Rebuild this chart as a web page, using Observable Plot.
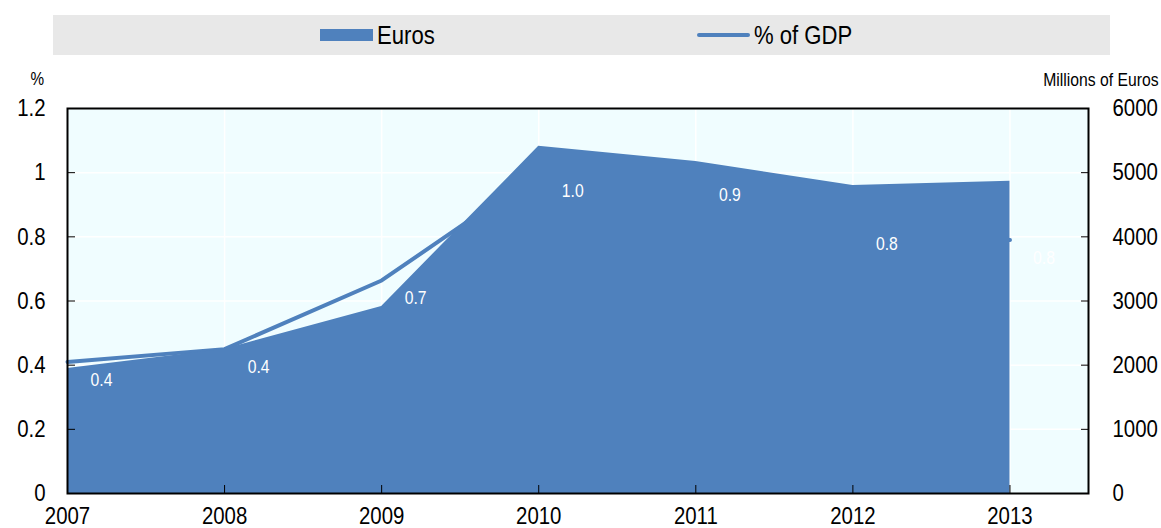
<!DOCTYPE html>
<html><head><meta charset="utf-8">
<script src="https://cdn.jsdelivr.net/npm/d3@7"></script>
<script src="https://cdn.jsdelivr.net/npm/@observablehq/plot@0.6"></script>
<style>
body{margin:0;background:#fff;font-family:"Liberation Sans",Arial,sans-serif;}
#legend{position:relative;margin:15px 0 0 53px;width:1057px;height:40px;background:#e8e8e8;font-size:26px;color:#000;}
.item{position:absolute;top:0;height:40px;display:flex;align-items:center;}
.sw-rect{width:53px;height:12px;background:#4f81bd;margin-right:4px;flex:none;}
.sw-line{width:53px;height:4px;background:#4f81bd;margin-right:4px;flex:none;border-radius:2px;}
.txt{display:inline-block;transform:scaleX(0.85);transform-origin:left center;white-space:nowrap;}
#chart{margin-top:5px;}
</style></head>
<body>
<div id="legend">
  <div class="item" style="left:267px"><span class="sw-rect"></span><span class="txt">Euros</span></div>
  <div class="item" style="left:644px"><span class="sw-line"></span><span class="txt">% of GDP</span></div>
</div>
<div id="chart"></div>
<script>
const years = [2007, 2008, 2009, 2010, 2011, 2012, 2013];
const euros = [1950, 2250, 2915, 5410, 5175, 4800, 4865];
const gdpPct = [0.41, 0.45, 0.664, 1.0, 0.985, 0.835, 0.79];
const gdpLabels = ["0.4", "0.4", "0.7", "1.0", "0.9", "0.8", "0.8"];
const leftTicks = [0, 0.2, 0.4, 0.6, 0.8, 1, 1.2];
const eurosPerPct = 5000; // right axis 6000 aligns with left 1.2

const data = years.map((year, i) => ({year, euros: euros[i], pct: gdpPct[i], label: gdpLabels[i]}));
const blue = "#4f81bd";

const chart = Plot.plot({
  width: 1161,
  height: 468,
  marginTop: 48,
  marginBottom: 35,
  marginLeft: 67,
  marginRight: 73,
  style: {fontFamily: '"Liberation Sans",Arial,sans-serif', background: "#fff", color: "#000"},
  x: {domain: [2007, 2013.5]},
  y: {domain: [0, 1.2]},
  marks: [
    Plot.frame({fill: "#f0fdff"}),
    Plot.gridX(years, {stroke: "#fff", strokeOpacity: 1, strokeWidth: 1.5}),
    Plot.gridY(leftTicks, {stroke: "#fff", strokeOpacity: 1, strokeWidth: 1.5}),
    Plot.line(data, {x: "year", y: "pct", stroke: blue, strokeWidth: 4}),
    Plot.areaY(data, {x: "year", y: d => d.euros / eurosPerPct, fill: blue}),
    Plot.text(data, {x: "year", y: "pct", text: "label", fill: "white", dx: 34, dy: 18, fontSize: 18.5}),
    Plot.axisY(leftTicks, {anchor: "left", tickSize: -8, tickPadding: 30, fontSize: 24, tickFormat: d => String(d), label: null}),
    Plot.axisY(leftTicks, {anchor: "right", tickSize: -8, tickPadding: 32, fontSize: 24, tickFormat: d => String(Math.round(d * eurosPerPct)), label: null}),
    Plot.axisX(years, {anchor: "bottom", tickSize: -8, tickPadding: 21, fontSize: 24, tickFormat: d => String(d), label: null}),
    Plot.text(["%"], {frameAnchor: "top-left", dx: -37, dy: -36, fontSize: 18}),
    Plot.text(["Millions of Euros"], {frameAnchor: "top-right", textAnchor: "end", dx: 70, dy: -36, fontSize: 18.5}),
    Plot.frame({stroke: "#000", strokeWidth: 2})
  ]
});
// narrow the typeface horizontally around each text's own anchor point
chart.querySelectorAll("text").forEach(t => {
  const tr = t.getAttribute("transform");
  if (tr !== null) t.setAttribute("transform", tr + " scale(0.85,1)");
});
document.getElementById("chart").appendChild(chart);
</script>
</body></html>
